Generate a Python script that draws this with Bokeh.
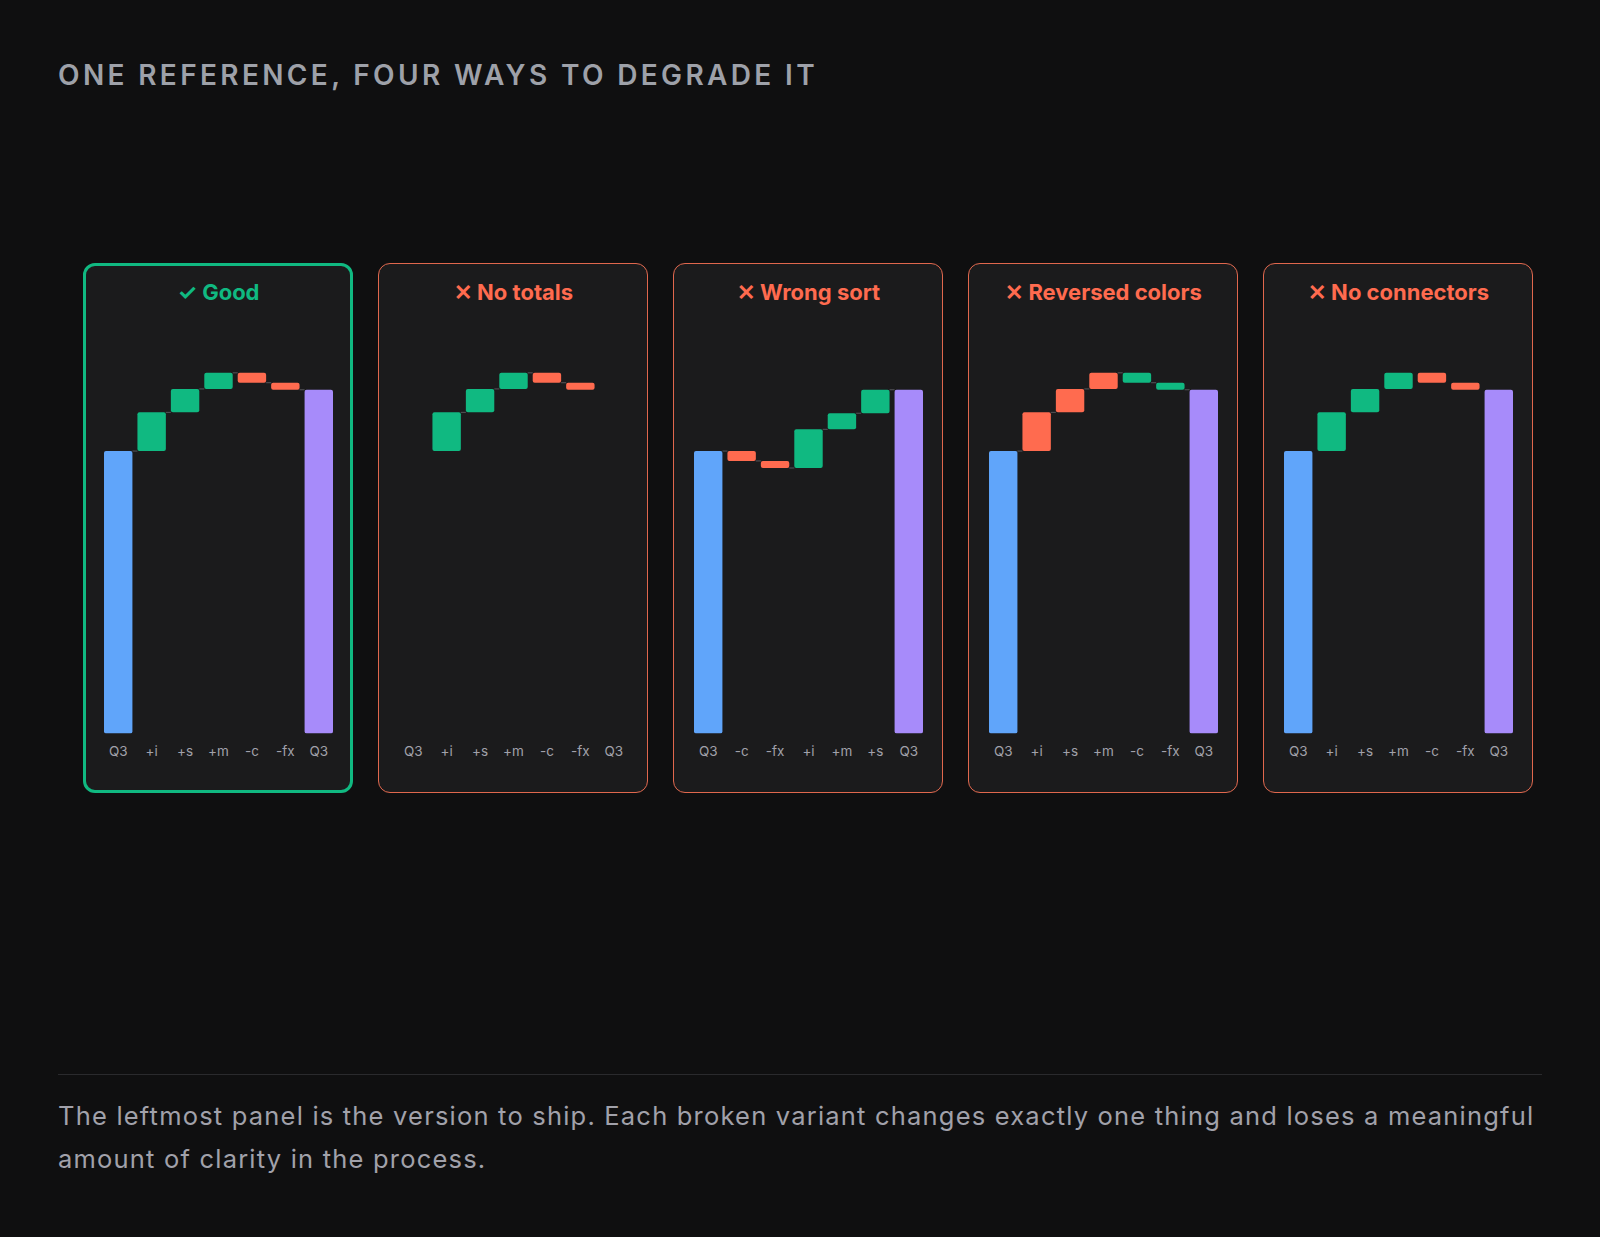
from bokeh.plotting import figure
from bokeh.models import FixedTicker, ColumnDataSource, Div, Spacer, Range1d
from bokeh.layouts import column, row
from bokeh.embed import file_html
from bokeh.resources import INLINE

# ---------------- data ----------------
labels_std = ["Q3", "+i", "+s", "+m", "-c", "-fx", "Q3"]
start_total = 100.0
deltas_std = [13.7, 8.3, 5.7, -3.5, -2.5]
labels_sorted = ["Q3", "-c", "-fx", "+i", "+m", "+s", "Q3"]
deltas_sorted = [-3.5, -2.5, 13.7, 5.7, 8.3]

panel_titles = ["✓ Good", "✕ No totals", "✕ Wrong sort", "✕ Reversed colors", "✕ No connectors"]

title_text = "ONE REFERENCE, FOUR WAYS TO DEGRADE IT"
footer_lines = [
    "The leftmost panel is the version to ship. Each broken variant changes exactly one thing and loses a meaningful",
    "amount of clarity in the process.",
]

# ---------------- style ----------------
PAGE_BG = "#0f0f10"
PANEL_BG = "#1b1b1c"
GREEN = "#10b981"
RED = "#ff6b4f"
BLUE = "#60a5fa"
PURPLE = "#a78bfa"
BORDER_RED = "#e0674d"
LABEL = "#a1a1aa"
CONN = "#55555a"

PW, PH = 270, 530
BAR_W = 0.85


def make_panel(title, labels, deltas, totals=True, reverse=False, connectors=True, good=False):
    lw = 3 if good else 1.5
    bcol = GREEN if good else BORDER_RED
    p = figure(width=PW, height=PH, output_backend="svg", toolbar_location=None,
               x_range=Range1d(-0.5, 6.5), y_range=Range1d(0, 148.0),
               min_border_left=18, min_border_right=18, min_border_top=52, min_border_bottom=60,
               background_fill_color=None, border_fill_color=None, outline_line_color=None,
               title=title,
               styles={"background-color": PANEL_BG, "border-radius": "12px",
                       "outline": f"{lw}px solid {bcol}", "outline-offset": f"-{lw}px"})

    xs, bots, tops, cols = [], [], [], []
    up_col, down_col = (RED, GREEN) if reverse else (GREEN, RED)
    if totals:
        xs.append(0); bots.append(0); tops.append(start_total); cols.append(BLUE)
    level = start_total
    for i, d in enumerate(deltas):
        nxt = level + d
        xs.append(i + 1); bots.append(min(level, nxt)); tops.append(max(level, nxt))
        cols.append(up_col if d >= 0 else down_col)
        level = nxt
    if totals:
        xs.append(len(deltas) + 1); bots.append(0); tops.append(level); cols.append(PURPLE)

    src = ColumnDataSource(dict(x=xs, bottom=bots, top=tops, color=cols))
    p.vbar(x="x", bottom="bottom", top="top", width=BAR_W, fill_color="color",
           line_color=None, border_radius=2, source=src)

    if connectors:
        levels = [start_total]
        for d in deltas:
            levels.append(levels[-1] + d)
        x0s, x1s, ys = [], [], []
        for k in range(len(levels)):
            a, b = k, k + 1
            if not totals and (a == 0 or b == len(deltas) + 1):
                continue
            x0s.append(a + BAR_W / 2); x1s.append(b - BAR_W / 2); ys.append(levels[k])
        p.segment(x0=x0s, y0=ys, x1=x1s, y1=ys, line_color=CONN, line_width=1)

    p.title.align = "center"
    p.title.text_font = "Inter"
    p.title.text_font_size = "22px"
    p.title.text_font_style = "bold"
    p.title.text_color = GREEN if good else RED
    p.title.standoff = 21

    p.xaxis.ticker = FixedTicker(ticks=list(range(7)))
    p.xaxis.major_label_overrides = {i: lab for i, lab in enumerate(labels)}
    p.xaxis.major_label_text_font = "Inter"
    p.xaxis.major_label_text_font_size = "13.5px"
    p.xaxis.major_label_text_color = LABEL
    p.xaxis.axis_line_color = None
    p.xaxis.major_tick_line_color = None
    p.xaxis.minor_tick_line_color = None
    p.xaxis.major_tick_out = 0
    p.xaxis.major_label_standoff = 9
    p.yaxis.visible = False
    p.grid.visible = False
    return p


panels = [
    make_panel(panel_titles[0], labels_std, deltas_std, good=True),
    make_panel(panel_titles[1], labels_std, deltas_std, totals=False),
    make_panel(panel_titles[2], labels_sorted, deltas_sorted),
    make_panel(panel_titles[3], labels_std, deltas_std, reverse=True),
    make_panel(panel_titles[4], labels_std, deltas_std, connectors=False),
]

head = Div(width=1590, height=253, text=(
    f'<div style="padding:56px 0 0 53px;font-family:Inter;font-size:28px;line-height:28px;'
    f'font-weight:600;letter-spacing:0.12em;color:#9ea1a9;white-space:nowrap;">{title_text}</div>'),
    styles={"background-color": PAGE_BG})

foot = Div(width=1590, height=1237 - 263 - PH - 10, text=(
    f'<div style="margin:276px 0 0 53px;width:1484px;border-top:1px solid #2a2a2d;padding-top:19px;'
    f'font-family:Inter;font-size:25.5px;line-height:43px;letter-spacing:1.2px;color:#a1a1aa;white-space:nowrap;">'
    f'{footer_lines[0]}<br>{footer_lines[1]}</div>'),
    styles={"background-color": PAGE_BG})

prow = row([Spacer(width=58, height=PH)] + panels, spacing=25,
           styles={"background-color": PAGE_BG})

root = column([head, prow, foot], spacing=0, width=1600, height=1237,
              styles={"background-color": PAGE_BG})

open("out.html", "w").write(file_html(root, INLINE))
